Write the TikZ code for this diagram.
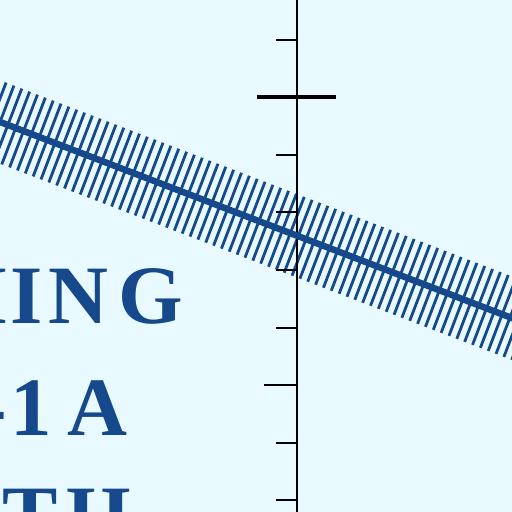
\documentclass[tikz,border=0pt]{standalone}
\usepackage{fontspec}
\setmainfont{Liberation Serif}
\definecolor{bgcyan}{RGB}{232,250,255}
\definecolor{navy}{RGB}{22,72,140}
\tikzset{
  hatchstroke/.style={draw=navy, line width=2.8pt},
  mainline/.style={draw=navy, line width=6.5pt},
  axisline/.style={draw=black, line width=2.7pt},
  ticksmall/.style={draw=black, line width=2.7pt},
  tickbig/.style={draw=black, line width=4pt},
  bigtext/.style={text=navy, inner sep=0pt, anchor=base west,
    font=\fontsize{83}{90}\selectfont\bfseries}
}
\begin{document}
\begin{tikzpicture}[x=1pt,y=-1pt]
\useasboundingbox (0,0) rectangle (512,512);
\fill[bgcyan] (0,0) rectangle (512,512);
\clip (0,0) rectangle (512,512);
% hatching strokes perpendicular to the main line
\foreach \i in {-8,...,72} {
  \draw[hatchstroke] ({\i*7.846-13.96},{122+\i*3.007+36.43}) -- ({\i*7.846+13.96},{122+\i*3.007-36.43});
}
% axis and ticks
\coordinate (axtop) at (297,0);
\coordinate (axbot) at (297,512);
\draw[axisline] (axtop) -- (axbot);
\foreach \y in {40,155,212,270,328,443,500} {
  \draw[ticksmall] (276,\y) -- (297,\y);
}
\draw[ticksmall] (264,385) -- (297,385);
\draw[tickbig] (257,97) -- (336,97);
% main line
\coordinate (la) at (-20,114.3);
\coordinate (lb) at (532,325.7);
\draw[mainline] (la) -- (lb);
% texts
\node[bigtext] (t1) at (-58,323) {H\kern3.6pt I\kern5.5pt N\kern10.5pt G};
\node[bigtext] (t2) at (-20.8,435) {-\kern3.2pt 1\kern16pt A};
\node[bigtext] (t3) at (2.3,543) {T\kern9pt H};
\end{tikzpicture}
\end{document}
